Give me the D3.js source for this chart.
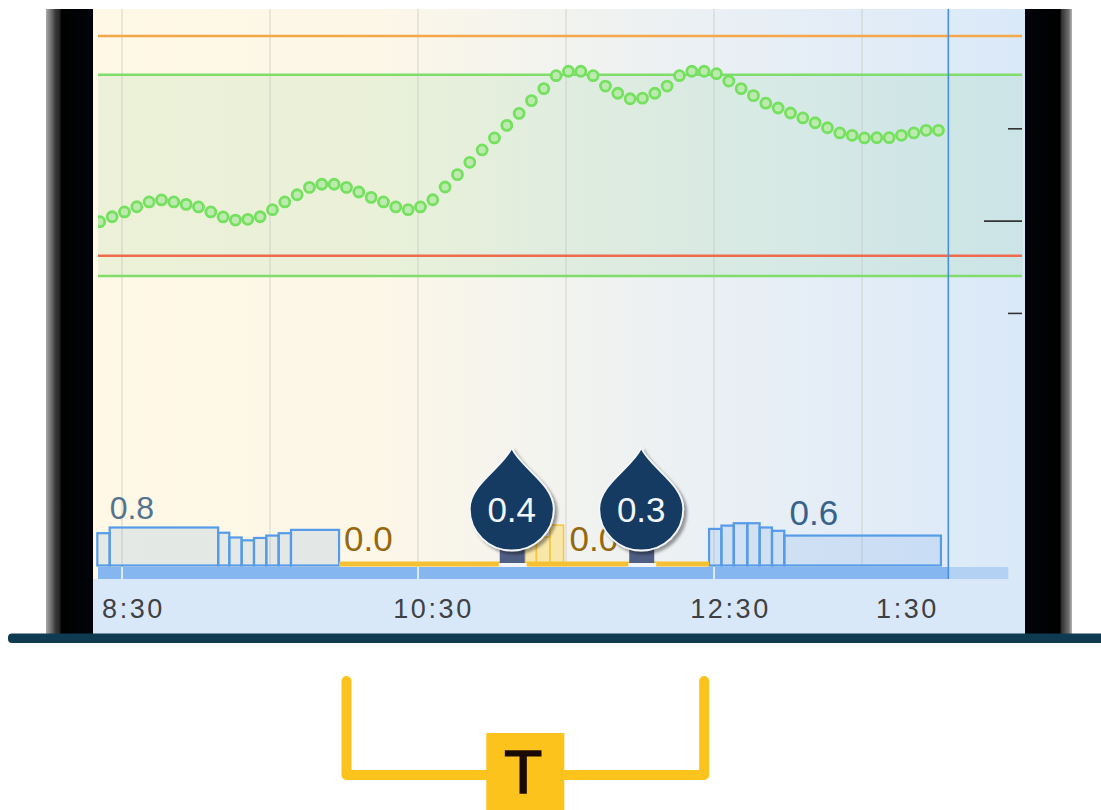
<!DOCTYPE html>
<html>
<head>
<meta charset="utf-8">
<title>Pump history</title>
<script src="https://cdn.jsdelivr.net/npm/d3@7"></script>
<style>
  html, body { margin: 0; padding: 0; background: #fff; }
  svg { display: block; font-family: "Liberation Sans", Arial, sans-serif; }
</style>
</head>
<body>
<svg id="chart" width="1101" height="810"></svg>
<script>
// all times are minutes after midnight, glucose is mg/dL, basal is U/hr
var gridTimes = [510, 570, 630, 690, 750, 810];
var axisTimes = [510, 630, 750, 810];
var axisLabels = ["8:30", "10:30", "12:30", "1:30"];
var glucoseTicks = [150, 100, 50];
var glucoseStart = 501;
var glucose = [
  99.4, 102.1, 104.7, 107.5, 110.1, 111.2, 110.1, 108.8, 107.4, 104.7, 102, 100.3,
  100.7, 102.1, 105.9, 110.1, 114, 118, 119.7, 119.7, 118, 115.5, 112.6, 110.1,
  107.4, 105.9, 107.4, 111.3, 118.2, 124.9, 131.6, 138.3, 144.8, 151.6, 158.1, 165,
  171.5, 178.5, 180.9, 180.9, 178.5, 172.9, 169, 166, 166.3, 169, 172.9, 178.5,
  180.9, 180.9, 179.6, 175.6, 171.5, 167.7, 163.6, 161, 158.3, 155.6, 153, 150.3,
  147.5, 146.2, 144.8, 144.9, 144.9, 146.2, 147.5, 148.9, 148.9
];
var limitValues = [200, 179, 81, 70];
var limitNames = ["urgentHigh", "high", "urgentLow", "low"];

// basal segments: start, end, rate
var basalStart = [500, 505, 549, 553.5, 558.5, 563.5, 568.5, 573.5, 578.5, 748, 753, 758, 763.5, 768.5, 773.5, 778.5];
var basalEnd = [505, 549, 553.5, 558.5, 563.5, 568.5, 573.5, 578.5, 598, 753, 758, 763.5, 768.5, 773.5, 778.5, 842];
var basalRate = [0.68, 0.8, 0.69, 0.59, 0.53, 0.58, 0.63, 0.68, 0.75, 0.77, 0.84, 0.89, 0.89, 0.8, 0.73, 0.63];

// suspended stretch and the automatic bars inside it
var suspendStart = 598;
var suspendEnd = 748;
var autoStart = [673.5, 678, 683.5];
var autoEnd = [678, 683.5, 689];
var autoRate = [0.45, 0.6, 0.85];

var rateTimes = [505, 598, 689, 779];
var rateLabels = ["0.8", "0.0", "0.0", "0.6"];
var bolusTimes = [668, 720.5];
var bolusLabels = ["0.4", "0.3"];
var nowTime = 845;
var bracketStart = 601;
var bracketEnd = 746;
var bracketLabel = "T";

var svg = d3.select("#chart");
var x = d3.scaleLinear().domain([510, 810]).range([122, 862]);
var y = d3.scaleLinear().domain([70, 200]).range([276, 36]);
var yBasal = d3.scaleLinear().domain([0, 1]).range([565.5, 518]);

var defs = svg.append("defs");
var bg = defs.append("linearGradient").attr("id", "bgFade");
bg.append("stop").attr("offset", "0%").attr("stop-color", "#fff8e6");
bg.append("stop").attr("offset", "30%").attr("stop-color", "#fdf7e8");
bg.append("stop").attr("offset", "50%").attr("stop-color", "#f2f3ef");
bg.append("stop").attr("offset", "75%").attr("stop-color", "#e6eef6");
bg.append("stop").attr("offset", "100%").attr("stop-color", "#dae9f9");

var shadow = defs.append("filter").attr("id", "dropShadow")
  .attr("x", "-20%").attr("y", "-20%").attr("width", "150%").attr("height", "150%");
shadow.append("feDropShadow").attr("dx", 3).attr("dy", 3).attr("stdDeviation", 1.5)
  .attr("flood-color", "#000").attr("flood-opacity", 0.38);

// readings start just outside the plot, cut them off at its edge
defs.append("clipPath").attr("id", "plotClip").append("rect")
  .attr("x", 98).attr("y", 9).attr("width", 925).attr("height", 570);

// Panel background
svg.append("rect").attr("x", 93).attr("y", 9).attr("width", 932).attr("height", 570).attr("fill", "url(#bgFade)");
svg.append("rect").attr("x", 93).attr("y", 579).attr("width", 932).attr("height", 55).attr("fill", "#d8e8f9");
svg.append("rect").attr("x", 98).attr("y", y(limitValues[1])).attr("width", 925)
  .attr("height", y(limitValues[3]) - y(limitValues[1]))
  .attr("fill", "#62c46a").attr("fill-opacity", 0.12);

// Hour grid
svg.append("g").selectAll("line").data(gridTimes).enter().append("line")
  .attr("x1", function (d) { return x(d); })
  .attr("x2", function (d) { return x(d); })
  .attr("y1", 9).attr("y2", 567)
  .attr("stroke", "#c9c9c4").attr("stroke-opacity", 0.5).attr("stroke-width", 1.5);

// Target and alert limits
var limitColors = { urgentHigh: "#f5a84a", high: "#80dd6c", urgentLow: "#ee6b4d", low: "#80dd6c" };
svg.append("g").selectAll("line").data(limitValues).enter().append("line")
  .attr("x1", 98).attr("x2", 1022)
  .attr("y1", function (d) { return y(d); })
  .attr("y2", function (d) { return y(d); })
  .attr("stroke", function (d, i) { return limitColors[limitNames[i]]; })
  .attr("stroke-width", 2.4);

// Glucose scale on the right, middle tick is the long one
var yAxis = d3.axisLeft(y).tickValues(glucoseTicks).tickFormat("").tickSizeOuter(0)
  .tickSize(14);
var yAxisG = svg.append("g").attr("transform", "translate(1022,0)").call(yAxis);
yAxisG.select(".domain").remove();
yAxisG.selectAll("line").attr("stroke", "#333").attr("stroke-width", 1.6)
  .attr("x2", function (d) { return d === 100 ? -38 : -14; });

// Glucose readings, one every five minutes
svg.append("g").attr("clip-path", "url(#plotClip)").selectAll("circle").data(glucose).enter().append("circle")
  .attr("cx", function (d, i) { return x(glucoseStart + i * 5); })
  .attr("cy", function (d) { return y(d); })
  .attr("r", 5)
  .attr("fill", "#bdeaae")
  .attr("stroke", "#76e060")
  .attr("stroke-width", 2.8);

// Axis strip
svg.append("rect").attr("x", 98).attr("y", 567).attr("width", x(nowTime) - 98).attr("height", 12).attr("fill", "#86b6f0");
svg.append("rect").attr("x", x(nowTime)).attr("y", 567).attr("width", 60).attr("height", 12).attr("fill", "#b3d1f3");
svg.append("g").selectAll("line").data([510, 630, 750]).enter().append("line")
  .attr("x1", function (d) { return x(d); })
  .attr("x2", function (d) { return x(d); })
  .attr("y1", 567).attr("y2", 579)
  .attr("stroke", "#dbe9f9").attr("stroke-width", 2);

// Basal bars
svg.append("g").selectAll("rect").data(basalRate).enter().append("rect")
  .attr("x", function (d, i) { return x(basalStart[i]); })
  .attr("y", function (d) { return yBasal(d); })
  .attr("width", function (d, i) { return x(basalEnd[i]) - x(basalStart[i]); })
  .attr("height", function (d) { return yBasal(0) - yBasal(d); })
  .attr("fill", "#4a90e2").attr("fill-opacity", 0.14)
  .attr("stroke", "#559be8").attr("stroke-width", 2.2);

// Suspended, yellow
svg.append("g").selectAll("rect").data(autoRate).enter().append("rect")
  .attr("x", function (d, i) { return x(autoStart[i]); })
  .attr("y", function (d) { return yBasal(d); })
  .attr("width", function (d, i) { return x(autoEnd[i]) - x(autoStart[i]); })
  .attr("height", function (d) { return yBasal(0) - yBasal(d); })
  .attr("fill", "#fbe391").attr("fill-opacity", 0.75)
  .attr("stroke", "#f6c63c").attr("stroke-width", 1.5);
svg.append("line")
  .attr("x1", x(suspendStart)).attr("x2", x(suspendEnd))
  .attr("y1", yBasal(0) - 1.5).attr("y2", yBasal(0) - 1.5)
  .attr("stroke", "#f5c132").attr("stroke-width", 5);

// Now line
svg.append("line")
  .attr("x1", x(nowTime)).attr("x2", x(nowTime))
  .attr("y1", 9).attr("y2", 579)
  .attr("stroke", "#4a8fe0").attr("stroke-width", 1.6);

// Basal rate labels
var rateColors = ["#54738f", "#96680f", "#96680f", "#36628c"];
var rateSizes = [32, 35, 35, 35];
var rateBase = [519, 551, 551, 525];
var rateShift = [0, 5, 6, 4];
svg.append("g").selectAll("text").data(rateLabels).enter().append("text")
  .attr("x", function (d, i) { return x(rateTimes[i]) + rateShift[i]; })
  .attr("y", function (d, i) { return rateBase[i]; })
  .attr("font-size", function (d, i) { return rateSizes[i]; })
  .attr("fill", function (d, i) { return rateColors[i]; })
  .text(function (d) { return d; });

// Bolus drops
var drops = svg.append("g").selectAll("g").data(bolusTimes).enter().append("g")
  .attr("transform", function (d) { return "translate(" + x(d) + ",0)"; });
drops.append("rect").attr("x", -13).attr("y", 563).attr("width", 28).attr("height", 4).attr("fill", "#f2f6fb");
drops.append("rect").attr("x", -12).attr("y", 548).attr("width", 25).attr("height", 15).attr("fill", "#4f5f84");
drops.append("path")
  .attr("d", "M0,448 C9,468 42,484 42,509 A42,41.5 0 1 1 -42,509 C-42,484 -9,468 0,448 Z")
  .attr("fill", "#153a63")
  .attr("stroke", "#f4f6f8").attr("stroke-width", 1.8)
  .attr("filter", "url(#dropShadow)");
drops.append("text")
  .attr("y", 522).attr("text-anchor", "middle")
  .attr("font-size", 35).attr("fill", "#f2f6fa")
  .text(function (d, i) { return bolusLabels[i]; });

// Time axis, labels sit a little right of their grid line
var labelShift = [11, 15, 16, 45];
var xAxis = d3.axisBottom(x).tickValues(axisTimes).tickSize(0)
  .tickFormat(function (d, i) { return axisLabels[i]; });
var xAxisG = svg.append("g").attr("transform", "translate(0,590)").call(xAxis);
xAxisG.select(".domain").remove();
xAxisG.selectAll("text")
  .attr("x", function (d, i) { return labelShift[i]; })
  .attr("y", 28).attr("dy", 0)
  .attr("font-family", "Liberation Sans")
  .attr("font-size", 27)
  .attr("letter-spacing", 2.6)
  .attr("fill", "#3f4043");

// Phone body
var bezel = defs.append("linearGradient").attr("id", "bezelLeft");
bezel.append("stop").attr("offset", "0%").attr("stop-color", "#a8a8a8");
bezel.append("stop").attr("offset", "12%").attr("stop-color", "#6a6a6a");
bezel.append("stop").attr("offset", "20%").attr("stop-color", "#3a3a3a");
bezel.append("stop").attr("offset", "30%").attr("stop-color", "#222");
bezel.append("stop").attr("offset", "32%").attr("stop-color", "#000");
bezel.append("stop").attr("offset", "100%").attr("stop-color", "#02040a");
var bezelR = defs.append("linearGradient").attr("id", "bezelRight");
bezelR.append("stop").attr("offset", "0%").attr("stop-color", "#02040a");
bezelR.append("stop").attr("offset", "74%").attr("stop-color", "#000");
bezelR.append("stop").attr("offset", "78%").attr("stop-color", "#333");
bezelR.append("stop").attr("offset", "93%").attr("stop-color", "#6e6e6e");
bezelR.append("stop").attr("offset", "100%").attr("stop-color", "#b5b5b5");
svg.append("rect").attr("x", 46).attr("y", 9).attr("width", 47).attr("height", 626).attr("fill", "url(#bezelLeft)");
svg.append("rect").attr("x", 1025).attr("y", 9).attr("width", 47).attr("height", 626).attr("fill", "url(#bezelRight)");
svg.append("rect").attr("x", 8).attr("y", 633.5).attr("width", 1110).attr("height", 9.5).attr("rx", 4).attr("fill", "#0e3a52");

// Bracket under the suspended stretch
svg.append("path")
  .attr("d", "M" + x(bracketStart) + ",681 V775 H" + x(bracketEnd) + " V681")
  .attr("fill", "none").attr("stroke", "#fdc31d").attr("stroke-width", 10)
  .attr("stroke-linejoin", "round").attr("stroke-linecap", "round");
var bracketMid = (x(bracketStart) + x(bracketEnd)) / 2;
svg.append("rect").attr("x", bracketMid - 39).attr("y", 733).attr("width", 78).attr("height", 77).attr("fill", "#fdc31d");
// regular weight is too thin and bold too wide, so thicken the regular one
svg.append("text")
  .attr("x", bracketMid - 2).attr("y", 793).attr("text-anchor", "middle")
  .attr("font-size", 62).attr("fill", "#1a0a05")
  .attr("stroke", "#1a0a05").attr("stroke-width", 1.6)
  .text(bracketLabel);
</script>
</body>
</html>
